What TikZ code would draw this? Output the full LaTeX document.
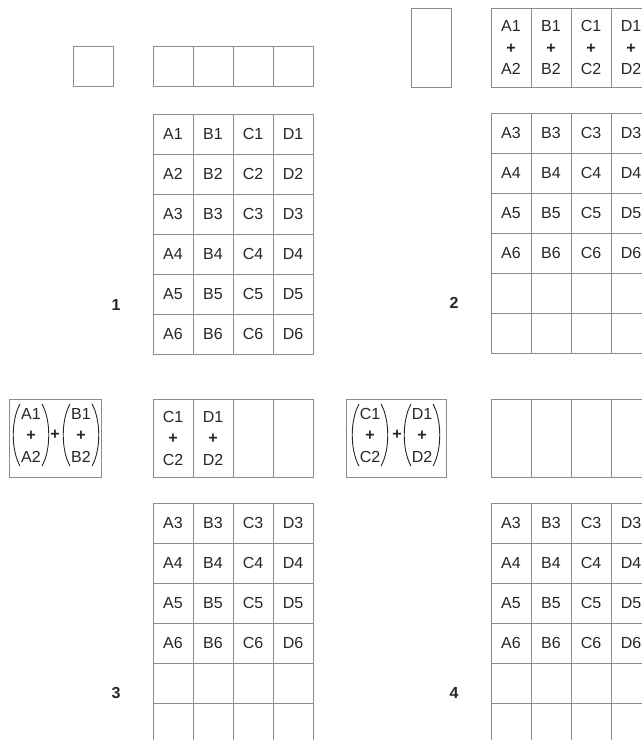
\documentclass[tikz,border=0pt]{standalone}
\usepackage{fontspec}
\setmainfont{Liberation Sans}
\usetikzlibrary{calc}
\definecolor{linegray}{HTML}{8C8C8C}
\definecolor{textgray}{HTML}{262626}
\newcommand\bplus{\textbf{+}}
\begin{document}
\begin{tikzpicture}[x=1pt,y=-1pt,
  cell/.style={draw=linegray, line width=1pt, minimum width=40pt, minimum height=40pt,
    inner sep=0pt, outer sep=0pt, anchor=north west, text=textgray,
    font=\fontsize{16}{21.5}\selectfont, align=center},
  tallcell/.style={cell, minimum height=79pt},
  midcell/.style={cell, minimum height=78pt},
  sumbox/.style={draw=linegray, line width=1pt, minimum height=78pt, inner sep=0pt,
    outer sep=0pt, anchor=north west},
  stack/.style={inner sep=0pt, text=textgray, font=\fontsize{16}{21.5}\selectfont, align=center},
  paren/.style={draw=textgray, line width=0.9pt},
  num/.style={inner sep=0pt, text=textgray, font=\fontsize{16}{18}\selectfont\bfseries}]
\useasboundingbox (0,0) rectangle (642,740);
\clip (0,0) rectangle (642,740);

% ---------- Panel 1 ----------
\node[cell] (p1s) at (73,46) {};
\foreach \c [count=\i from 0] in {A,B,C,D} {
  \node[cell] (p1r\c) at (153+40*\i,46) {};
  \foreach \r in {1,...,6} {
    \node[cell] (p1\c\r) at (153+40*\i,114+40*\r-40) {\c\r};
  }
}
\node[num] (n1) at (116,305) {1};

% ---------- Panel 2 ----------
\node[cell, minimum height=79pt] (p2s) at (411,8) {};
\foreach \c [count=\i from 0] in {A,B,C,D} {
  \node[tallcell] (p2r\c) at (491+40*\i,8) {\c1\\\bplus\\\c2};
  \foreach \r [count=\k from 0] in {3,4,5,6} {
    \node[cell] (p2\c\r) at (491+40*\i,113+40*\k) {\c\r};
  }
  \node[cell] (p2\c e1) at (491+40*\i,273) {};
  \node[cell] (p2\c e2) at (491+40*\i,313) {};
}
\node[num] (n2) at (454,303) {2};

% ---------- Panel 3 ----------
\node[sumbox, minimum width=92pt] (p3s) at (9,399) {};
\node[stack] (gA) at (31,435) {A1\\\bplus\\A2};
\node[stack] (pl3) at (55,435) {\bplus};
\node[stack] (gB) at (81,435) {B1\\\bplus\\B2};
\foreach \c [count=\i from 0] in {C,D} {
  \node[midcell] (p3r\c) at (153+40*\i,399) {\c1\\\bplus\\\c2};
}
\node[midcell] (p3rE1) at (233,399) {};
\node[midcell] (p3rE2) at (273,399) {};
\foreach \c [count=\i from 0] in {A,B,C,D} {
  \foreach \r [count=\k from 0] in {3,4,5,6} {
    \node[cell] (p3\c\r) at (153+40*\i,503+40*\k) {\c\r};
  }
  \node[cell] (p3\c e1) at (153+40*\i,663) {};
  \node[cell] (p3\c e2) at (153+40*\i,703) {};
}
\node[num] (n3) at (116,693) {3};

% ---------- Panel 4 ----------
\node[sumbox, minimum width=100pt] (p4s) at (346,399) {};
\node[stack] (gC) at (370,435) {C1\\\bplus\\C2};
\node[stack] (pl4) at (397,435) {\bplus};
\node[stack] (gD) at (422,435) {D1\\\bplus\\D2};
\foreach \c [count=\i from 0] in {A,B,C,D} {
  \node[midcell] (p4r\c) at (491+40*\i,399) {};
  \foreach \r [count=\k from 0] in {3,4,5,6} {
    \node[cell] (p4\c\r) at (491+40*\i,503+40*\k) {\c\r};
  }
  \node[cell] (p4\c e1) at (491+40*\i,663) {};
  \node[cell] (p4\c e2) at (491+40*\i,703) {};
}
\node[num] (n4) at (454,693) {4};

% ---------- parentheses ----------
\foreach \g in {gA,gB,gC,gD} {
  \draw[paren] ($(\g)+(-11,-31)$) .. controls +(-9,16) and +(-9,-16) .. ($(\g)+(-11,31)$);
  \draw[paren] ($(\g)+(11,-31)$) .. controls +(9,16) and +(9,-16) .. ($(\g)+(11,31)$);
}
\end{tikzpicture}
\end{document}
